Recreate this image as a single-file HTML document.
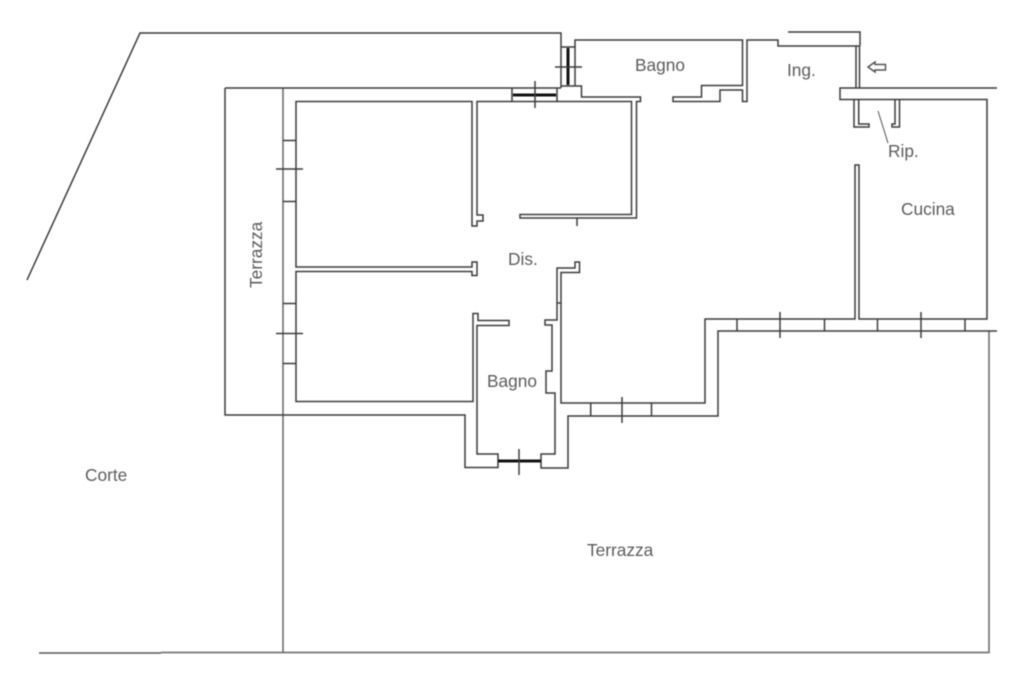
<!DOCTYPE html>
<html><head><meta charset="utf-8"><style>
html,body{margin:0;padding:0;background:#fff;width:1024px;height:683px;overflow:hidden}
svg{display:block;filter:blur(0.45px)}
path,line,polyline{fill:none;stroke:#3c3c3c;stroke-width:1.5}
text{font-family:"Liberation Sans",sans-serif;font-size:17.3px;fill:#5c5c5c}
</style></head><body>
<svg width="1024" height="683" viewBox="0 0 1024 683" xmlns="http://www.w3.org/2000/svg">
<!-- site -->
<path d="M27 280L140 33H561V88"/>
<path d="M39 653H161" style="stroke:#555"/>
<path d="M161 652.5H989V331" style="stroke:#777;stroke-width:1.7"/>
<path d="M283 88V653" style="stroke:#666"/>
<path d="M225 88V415H465V467.5H498V454H477V325.5H509V320.5H478V313.5H473V401.5H296V271.5H472V275.5H477V262H472V267H296V101.5H472V226H477V221H483V215H477V101.5H512"/>
<path d="M225 88H561"/>
<!-- window top -->
<path d="M512 88V101.5H557V88"/>
<path d="M513 95H556" style="stroke:#111;stroke-width:3"/>
<path d="M535 81V108"/>
<!-- window vertical -->
<path d="M561.5 47H575V86M561.5 86H581.5V97H640.5V101.5H636.5V218H520V214.5H631.5V101.5H557"/>
<path d="M568 48V85" style="stroke:#111;stroke-width:3"/>
<path d="M555 67H582"/>
<path d="M577 218V226"/>
<!-- upper bagno -->
<path d="M575 47V40H742.5V85.5H701.5V97H673V101.5H720V90H742.5V101.5H747V40H778V46H859"/>
<path d="M788 32H860V46"/>
<path d="M856 46V88M859.5 46V88"/>
<!-- kitchen -->
<path d="M997 88H840V99.5H987V319H859V165H855V319H705V403H561V272.5H579.5V262H575V268H557V320H545V325H552V371H546V393H555V454H541V468H568V416H718V331H997"/>
<path d="M557 303H561"/>
<path d="M854 99.5V127H869V124H858.7V99.5"/>
<path d="M895 99.5V124H892V127H899.5V99.5"/>
<path d="M878 111L888 143" style="stroke:#555;stroke-width:1"/>
<path d="M868 67L875 62V64.5H885.5V70H875V72Z" style="stroke:#555"/>
<!-- windows -->
<path d="M283 140.5H296M283 201.5H296M276 169H303M283 303.5H296M283 363.5H296M276 333.5H303"/>
<path d="M590.7 403V416M651.5 403V416M622 397V423"/>
<path d="M737 319V331M824.5 319V331M780 312V338M877.5 319V331M965 319V331M921 312V338"/>
<path d="M498 461H541" style="stroke:#111;stroke-width:3"/>
<path d="M519 449V475"/>
<!-- labels -->
<text x="635" y="71">Bagno</text>
<text x="787" y="76">Ing.</text>
<text x="888" y="157">Rip.</text>
<text x="901" y="215">Cucina</text>
<text x="508" y="265">Dis.</text>
<text x="487" y="387">Bagno</text>
<text x="85" y="481">Corte</text>
<text x="587" y="556">Terrazza</text>
<text transform="translate(262 288) rotate(-90)">Terrazza</text>
</svg>
</body></html>
